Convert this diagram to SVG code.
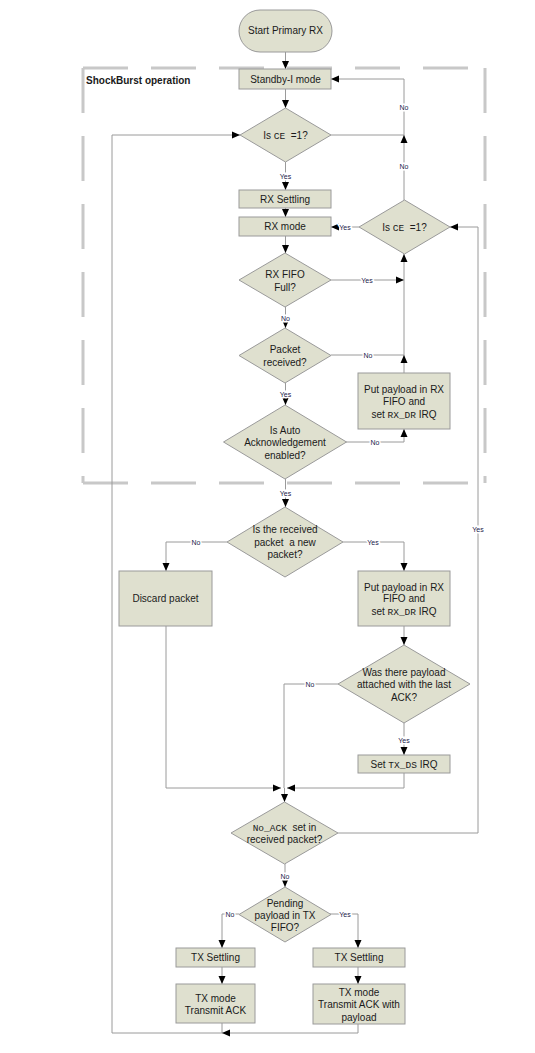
<svg xmlns="http://www.w3.org/2000/svg" width="535" height="1053" viewBox="0 0 535 1053">
<style>
.n{fill:#dfe0cf;stroke:#9a9a9a;stroke-width:1}
.t{font-family:"Liberation Sans",Arial,sans-serif;font-size:10px;fill:#1a1a1a;text-anchor:middle;white-space:pre}
.m{font-family:"Liberation Mono","Courier New",monospace;font-size:9.5px}
.c{fill:none;stroke:#9a9a9a;stroke-width:1}
.l{font-family:"Liberation Sans",Arial,sans-serif;font-size:7px;fill:#22224a;text-anchor:middle;stroke:#fff;stroke-width:3;paint-order:stroke}
.d{fill:none;stroke:#c8c8c8;stroke-width:3;stroke-dasharray:45 23}
</style>
<defs>
<marker id="a" markerUnits="userSpaceOnUse" markerWidth="8" markerHeight="8" viewBox="0 0 8 8" refX="8" refY="4" orient="auto"><path d="M0,0.5 L8,4 L0,7.5 Z" fill="#000"/></marker>
</defs>
<rect x="0" y="0" width="535" height="1053" fill="#fff"/>
<g id="frame">
<path class="d" d="M83,68 H485"/>
<path class="d" d="M485,68 V483"/>
<path class="d" d="M83,483 H485"/>
<path class="d" d="M83,68 V483"/>
<text x="86" y="83.5" style="font-family:'Liberation Sans',Arial,sans-serif;font-size:10px;font-weight:bold;fill:#1a1a1a">ShockBurst operation</text>
</g>
<g id="connectors">
<path class="c" d="M285.5,52 V69" marker-end="url(#a)"/>
<path class="c" d="M285.5,89 V108" marker-end="url(#a)"/>
<path class="c" d="M285.5,162 V190" marker-end="url(#a)"/>
<path class="c" d="M285.5,208 V217" marker-end="url(#a)"/>
<path class="c" d="M285.5,236 V253" marker-end="url(#a)"/>
<path class="c" d="M285.5,307 V328" marker-end="url(#a)"/>
<path class="c" d="M285.5,383 V405" marker-end="url(#a)"/>
<path class="c" d="M285.5,479 V507" marker-end="url(#a)"/>
<path class="c" d="M331,135 H404 V79 H331" marker-end="url(#a)"/>
<path class="c" d="M404,200 V135" marker-end="url(#a)"/>
<path class="c" d="M359,227 H331" marker-end="url(#a)"/>
<path class="c" d="M331,280 H404" marker-end="url(#a)"/>
<path class="c" d="M331,355 H404"/>
<path class="c" d="M404,373 V355" marker-end="url(#a)"/>
<path class="c" d="M404,355 V254" marker-end="url(#a)"/>
<path class="c" d="M346,442 H404 V429" marker-end="url(#a)"/>
<path class="c" d="M227,542 H166 V571" marker-end="url(#a)"/>
<path class="c" d="M343,542 H404 V571" marker-end="url(#a)"/>
<path class="c" d="M404,626 V645" marker-end="url(#a)"/>
<path class="c" d="M338,684 H284 V788"/>
<path class="c" d="M404,723 V755" marker-end="url(#a)"/>
<path class="c" d="M166,626 V788 H281" marker-end="url(#a)"/>
<path class="c" d="M404,773 V788 H287" marker-end="url(#a)"/>
<path class="c" d="M284.5,788 V802" marker-end="url(#a)"/>
<path class="c" d="M338,833 H478 V227 H450" marker-end="url(#a)"/>
<path class="c" d="M285,864 V887" marker-end="url(#a)"/>
<path class="c" d="M239,914 H222 V948" marker-end="url(#a)"/>
<path class="c" d="M330,914 H358 V948" marker-end="url(#a)"/>
<path class="c" d="M222,967 V984" marker-end="url(#a)"/>
<path class="c" d="M358,967 V984" marker-end="url(#a)"/>
<path class="c" d="M222,1023 V1033"/>
<path class="c" d="M358,1024 V1033 H222" marker-end="url(#a)"/>
<path class="c" d="M222,1033 H112 V135 H240" marker-end="url(#a)"/>
<text class="l" x="404" y="109.5">No</text>
<text class="l" x="404" y="168.5">No</text>
<text class="l" x="285.5" y="178.5">Yes</text>
<text class="l" x="345" y="229.5">Yes</text>
<text class="l" x="367" y="282.5">Yes</text>
<text class="l" x="285.5" y="320.5">No</text>
<text class="l" x="368" y="357.5">No</text>
<text class="l" x="285.5" y="396.5">Yes</text>
<text class="l" x="375" y="444.5">No</text>
<text class="l" x="285.5" y="495.5">Yes</text>
<text class="l" x="196" y="544.5">No</text>
<text class="l" x="373" y="544.5">Yes</text>
<text class="l" x="310" y="686.5">No</text>
<text class="l" x="404" y="742.5">Yes</text>
<text class="l" x="478" y="531.5">Yes</text>
<text class="l" x="285" y="878.5">No</text>
<text class="l" x="230" y="916.5">No</text>
<text class="l" x="345" y="916.5">Yes</text>
</g>
<g id="start"><rect class="n" x="239" y="10" width="93" height="42" rx="21"/><text class="t" x="285.5" y="33.5">Start Primary RX</text></g>
<g id="standby"><rect class="n" x="239" y="69" width="92" height="20"/><text class="t" x="285.5" y="82.5">Standby-I mode</text></g>
<g id="ce1"><polygon class="n" points="285.5,108 331,135 285.5,162 240,135"/><text class="t" x="285.5" y="138.5" xml:space="preserve">Is <tspan class="m">CE</tspan>  =1?</text></g>
<g id="rxsettling"><rect class="n" x="239" y="190" width="92" height="18"/><text class="t" x="285" y="202.5">RX Settling</text></g>
<g id="rxmode"><rect class="n" x="239" y="217" width="92" height="19"/><text class="t" x="285" y="230">RX mode</text></g>
<g id="ce2"><polygon class="n" points="404.5,200 450,227 404.5,254 359,227"/><text class="t" x="404.5" y="230.5" xml:space="preserve">Is <tspan class="m">CE</tspan>  =1?</text></g>
<g id="rxfifo"><polygon class="n" points="285,253 331,280 285,307 239,280"/><text class="t" x="285" y="277.5">RX FIFO</text><text class="t" x="285" y="290.5">Full?</text></g>
<g id="pktrx"><polygon class="n" points="285,328 331,355.5 285,383 239,355.5"/><text class="t" x="285" y="352.5">Packet</text><text class="t" x="285" y="365.5">received?</text></g>
<g id="payload1"><rect class="n" x="358" y="373" width="92" height="56"/><text class="t" x="404" y="392.5">Put payload in RX</text><text class="t" x="404" y="404.5">FIFO and</text><text class="t" x="404" y="417.5">set <tspan class="m">RX_DR</tspan> IRQ</text></g>
<g id="autoack"><polygon class="n" points="285,405 346.5,442 285,479 223.5,442"/><text class="t" x="285" y="433.5">Is Auto</text><text class="t" x="285" y="445.5">Acknowledgement</text><text class="t" x="285" y="458.5">enabled?</text></g>
<g id="newpkt"><polygon class="n" points="285,507 343,542 285,577 227,542"/><text class="t" x="285" y="532.5">Is the received</text><text class="t" x="285" y="545.5" xml:space="preserve">packet  a new</text><text class="t" x="285" y="557.5">packet?</text></g>
<g id="discard"><rect class="n" x="119" y="571" width="93" height="55"/><text class="t" x="165.5" y="601.5">Discard packet</text></g>
<g id="payload2"><rect class="n" x="358" y="571" width="92" height="55"/><text class="t" x="404" y="590.5">Put payload in RX</text><text class="t" x="404" y="601.5">FIFO and</text><text class="t" x="404" y="614.5">set <tspan class="m">RX_DR</tspan> IRQ</text></g>
<g id="wasthere"><polygon class="n" points="404,645 470,684 404,723 338,684"/><text class="t" x="404" y="675.5">Was there payload</text><text class="t" x="404" y="687.5">attached with the last</text><text class="t" x="404" y="700.5">ACK?</text></g>
<g id="settxds"><rect class="n" x="358" y="755" width="92" height="18"/><text class="t" x="404" y="767.5">Set <tspan class="m">TX_DS</tspan> IRQ</text></g>
<g id="noack"><polygon class="n" points="284.5,802 338,833 284.5,864 231,833"/><text class="t" x="284.5" y="830.5" xml:space="preserve"><tspan class="m">No_ACK</tspan>  set in</text><text class="t" x="284.5" y="842.5">received packet?</text></g>
<g id="pending"><polygon class="n" points="285,887 331,914.5 285,942 239,914.5"/><text class="t" x="285" y="906.5">Pending</text><text class="t" x="285" y="918.5">payload in TX</text><text class="t" x="285" y="930.5">FIFO?</text></g>
<g id="txsettl"><rect class="n" x="176" y="948" width="79" height="19"/><text class="t" x="215.5" y="961">TX Settling</text></g>
<g id="txsettr"><rect class="n" x="313" y="948" width="92" height="19"/><text class="t" x="359" y="961">TX Settling</text></g>
<g id="txmodel"><rect class="n" x="176" y="984" width="79" height="39"/><text class="t" x="215.5" y="1001.5">TX mode</text><text class="t" x="215.5" y="1013.5">Transmit ACK</text></g>
<g id="txmoder"><rect class="n" x="313" y="984" width="92" height="40"/><text class="t" x="359" y="995.5">TX mode</text><text class="t" x="359" y="1007.5">Transmit ACK with</text><text class="t" x="359" y="1020.5">payload</text></g>
</svg>
